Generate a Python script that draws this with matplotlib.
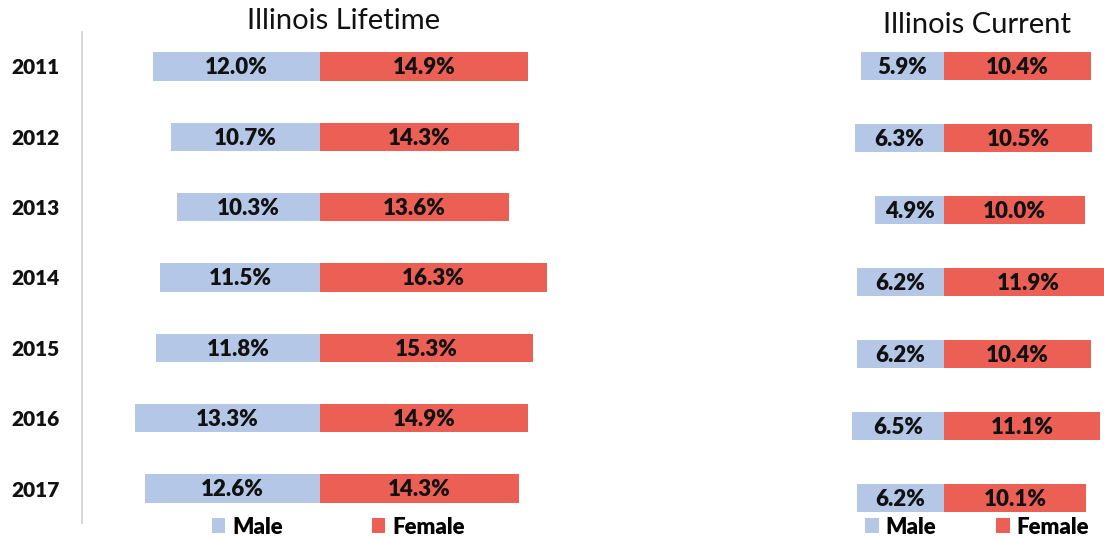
import matplotlib
matplotlib.use('Agg')
import matplotlib.pyplot as plt

plt.rcParams['font.family'] = ['Lato', 'DejaVu Sans']

years = ['2011', '2012', '2013', '2014', '2015', '2016', '2017']
lifetime_male = [12.0, 10.7, 10.3, 11.5, 11.8, 13.3, 12.6]
lifetime_female = [14.9, 14.3, 13.6, 16.3, 15.3, 14.9, 14.3]
current_male = [5.9, 6.3, 4.9, 6.2, 6.2, 6.5, 6.2]
current_female = [10.4, 10.5, 10.0, 11.9, 10.4, 11.1, 10.1]

male_color = '#B4C7E7'
female_color = '#EB5F55'

W, H = 1104, 539
fig = plt.figure(figsize=(W / 100, H / 100), dpi=100)


def px_axes(x0, y0, x1, y1):
    # pixel box (top-left origin) -> figure axes
    return fig.add_axes([x0 / W, 1 - y1 / H, (x1 - x0) / W, (y1 - y0) / H])


def draw_panel(ax, male, female, height):
    pos = list(range(len(years)))
    mb = ax.barh(pos, [-m for m in male], height=height, color=male_color, label='Male')
    fb = ax.barh(pos, female, height=height, color=female_color, label='Female')
    for i in pos:
        ax.text(-male[i] / 2, i + 0.02, f'{male[i]:.1f}%', ha='center', va='center',
                fontsize=16, fontweight='heavy', color='#111111')
        ax.text(female[i] / 2, i + 0.02, f'{female[i]:.1f}%', ha='center', va='center',
                fontsize=16, fontweight='heavy', color='#111111')
    for s in ['top', 'right', 'bottom']:
        ax.spines[s].set_visible(False)
    ax.set_xticks([])
    return mb, fb


leg_font = {'size': 16, 'weight': 'heavy'}

# left panel: lifetime
ax1 = px_axes(82, 32, 600, 523)
draw_panel(ax1, lifetime_male, lifetime_female, 0.40)
ax1.set_xlim(-17.09, 20.1)
ax1.set_ylim(6.49, -0.49)
ax1.spines['left'].set_color('#D0D0D0')
ax1.spines['left'].set_linewidth(1.2)
ax1.set_yticks(range(len(years)))
ax1.set_yticklabels(years, fontsize=15, fontweight='heavy', color='#111111')
ax1.tick_params(axis='y', length=0, pad=16)
ax1.legend(loc='center', bbox_to_anchor=(338 / W, 1 - 527 / H),
           bbox_transform=fig.transFigure, ncol=2, frameon=False,
           prop=leg_font, handlelength=0.62, handleheight=0.62,
           handletextpad=0.3, columnspacing=4.0,
           borderpad=0, borderaxespad=0)

# right panel: current
ax2 = px_axes(840, 32, 1104, 520)
draw_panel(ax2, current_male, current_female, 0.39)
ax2.set_xlim(-7.38, 11.35)
ax2.set_ylim(6.31, -0.472)
ax2.spines['left'].set_visible(False)
ax2.set_yticks([])
ax2.legend(loc='center', bbox_to_anchor=(977 / W, 1 - 527 / H),
           bbox_transform=fig.transFigure, ncol=2, frameon=False,
           prop=leg_font, handlelength=0.62, handleheight=0.62,
           handletextpad=0.3, columnspacing=2.7,
           borderpad=0, borderaxespad=0)

fig.text(344 / W, 1 - 29 / H, 'Illinois Lifetime', ha='center', va='baseline',
         fontsize=21, color='#111111')
fig.text(977 / W, 1 - 33 / H, 'Illinois Current', ha='center', va='baseline',
         fontsize=21, color='#111111')

fig.savefig('out.png', dpi=100)
